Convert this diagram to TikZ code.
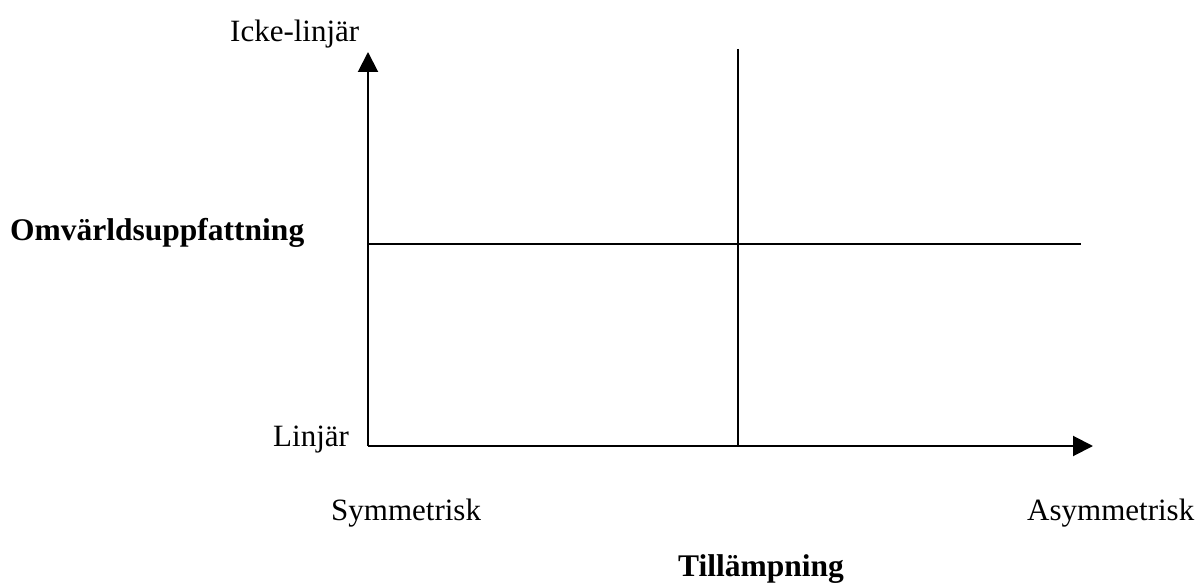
\documentclass[tikz,border=0pt]{standalone}
\usepackage{fontspec}
\setmainfont{Liberation Serif}
\usetikzlibrary{arrows.meta}
\begin{document}
\begin{tikzpicture}[x=1pt,y=-1pt,
  lbl/.style={inner sep=0pt, anchor=base west, font=\fontsize{31}{36}\selectfont},
  blbl/.style={inner sep=0pt, anchor=base west, font=\fontsize{31.5}{36}\selectfont\bfseries},
  axisline/.style={line width=2pt},
  tipped/.style={axisline, -{Triangle[length=20pt,width=20pt]}}]
\useasboundingbox (0,0) rectangle (1200,583);
\coordinate (O) at (368,446);
\coordinate (ytop) at (368,52);
\coordinate (xend) at (1093,446);
\coordinate (vtop) at (737.5,49);
\coordinate (vbot) at (737.5,446);
\coordinate (hl) at (368,244);
\coordinate (hr) at (1080.5,244);
\draw[axisline] (vtop) -- (vbot);
\draw[axisline] (hl) -- (hr);
\draw[tipped] (O) -- (ytop);
\draw[tipped] (O) -- (xend);
\node[lbl] (icke) at (230,41.7) {Icke-linjär};
\node[lbl] (linjar) at (273,446.7) {Linjär};
\node[blbl] (omv) at (10,240.7) {Omvärldsuppfattning};
\node[lbl] (sym) at (331,520) {Symmetrisk};
\node[lbl] (asym) at (1027,520) {Asymmetrisk};
\node[blbl] (till) at (678,576) {Tillämpning};
\end{tikzpicture}
\end{document}
